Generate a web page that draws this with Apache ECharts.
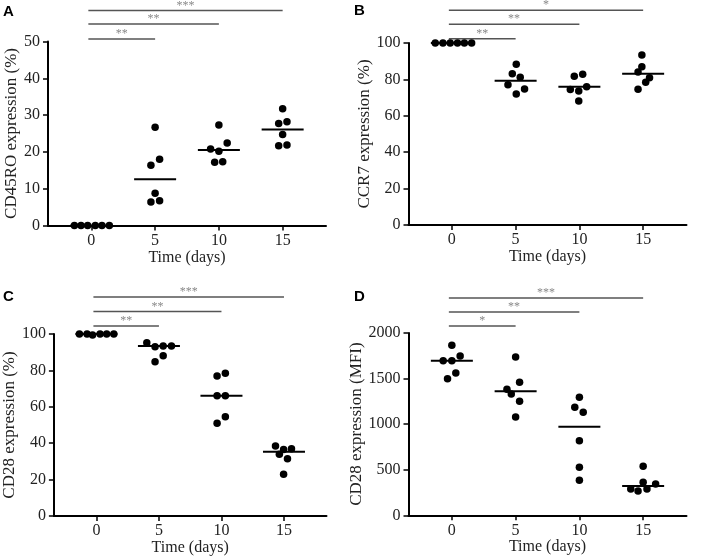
<!DOCTYPE html>
<html><head><meta charset="utf-8">
<script src="https://cdn.jsdelivr.net/npm/echarts@6/dist/echarts.min.js"></script>
<style>html,body{margin:0;padding:0;background:#fff}#c{width:708px;height:557px}</style>
</head><body><div id="c"></div>
<script>
// ---------- DATA ----------
const dayTicks = [0, 5, 10, 15];

// Panel A: CD45RO expression (%)
const aX = [-1.33,-0.81,-0.29,0.31,0.83,1.41, 5.0,4.67,5.35,5.0,4.67,5.35, 10.0,9.35,10.65,10.0,9.67,10.3, 15.0,14.69,15.34,15.0,14.69,15.34];
const aY = [0,0,0,0,0,0, 26.7,16.4,18.0,8.75,6.4,6.75, 27.3,20.8,22.4,20.2,17.2,17.3, 31.7,27.7,28.2,24.7,21.7,21.9];
const aMedian = [0, 12.6, 20.5, 26.1];
const aSig = [[0,5,'**'],[0,10,'**'],[0,15,'***']];

// Panel B: CCR7 expression (%)
const bX = [-1.3,-0.7,-0.13,0.44,0.98,1.55, 5.05,4.74,5.36,4.4,5.7,5.05, 9.6,10.26,9.29,9.95,10.57,9.95, 14.9,14.9,14.6,15.5,15.2,14.6];
const bY = [100,100,100,100,100,100, 88.3,83.1,81.2,77.0,74.7,72.0, 81.7,82.8,74.4,73.6,76.0,68.1, 93.4,87.0,84.1,80.9,78.4,74.6];
const bMedian = [100, 79.3, 76.0, 83.1];
const bSig = [[0,5,'**'],[0,10,'**'],[0,15,'*']];

// Panel C: CD28 expression (%)
const cX = [-1.36,-0.75,-0.31,0.29,0.82,1.39, 4.03,4.69,5.34,6.0,5.34,4.69, 9.65,10.31,9.65,10.31,10.31,9.65, 14.32,14.97,15.6,14.63,15.28,14.97];
const cY = [100,100,99.4,100,100,100, 95.2,93.0,93.4,93.4,88.1,84.8, 76.9,78.4,66.1,66.1,54.6,50.9, 38.5,36.6,37.0,33.9,31.5,22.9];
const cMedian = [100, 93.4, 66.1, 35.3];
const cSig = [[0,5,'**'],[0,10,'**'],[0,15,'***']];

// Panel D: CD28 expression (MFI)
const dX = [0,-0.68,0,0.65,0.31,-0.34, 5.0,5.31,4.32,4.66,5.31,5.0, 10.0,9.64,10.3,10.0,10.0,10.0, 15.0,15.0,15.98,14.03,14.6,15.3];
const dY = [1865,1696,1696,1748,1561,1499, 1737,1459,1382,1331,1251,1078, 1294,1185,1130,818,527,384, 538,362,343,289,267,289];
const dMedian = [1696, 1360, 972, 321];
const dSig = [[0,5,'*'],[0,10,'**'],[0,15,'***']];

const yNames = ['CD45RO expression (%)', 'CCR7 expression (%)', 'CD28 expression (%)', 'CD28 expression (MFI)'];
const xName = 'Time (days)';
const letters = ['A','B','C','D'];

// ---------- LAYOUT / STYLE ----------
const panels = [
  {x:aX, y:aY, med:aMedian, sig:aSig, ymax:50, yint:10, grid:{left:48, top:41.5, width:278, height:184}, nameGap:28, sigOff:[2.5,17.5,31], letter:[3,12]},
  {x:bX, y:bY, med:bMedian, sig:bSig, ymax:100, yint:20, grid:{left:408.5, top:43, width:278, height:182}, nameGap:33, sigOff:[4.3,18.7,32.7], letter:[354,11]},
  {x:cX, y:cY, med:cMedian, sig:cSig, ymax:100, yint:20, grid:{left:48.5, top:334, width:278, height:182}, nameGap:30, sigOff:[8,22.5,37], letter:[3,297]},
  {x:dX, y:dY, med:dMedian, sig:dSig, ymax:2000, yint:500, grid:{left:408.5, top:333, width:278, height:182.3}, nameGap:40, sigOff:[7,21,35], letter:[354,297]}
];

const serif = '"Liberation Serif", "DejaVu Serif", serif';
const grids = [], xAxes = [], yAxes = [], series = [], graphics = [];

panels.forEach((p, i) => {
  grids.push(Object.assign({containLabel:false}, p.grid));
  xAxes.push({
    type:'value', gridIndex:i, min:-3.4, max:18.4,
    name:xName, nameLocation:'middle', nameGap:20,
    nameTextStyle:{fontFamily:serif, fontSize:16, color:'#222'},
    axisLine:{show:true, onZero:false, lineStyle:{color:'#000', width:2}},
    axisTick:{show:true, length:5, lineStyle:{color:'#000', width:1.5}, customValues:dayTicks},
    axisLabel:{fontFamily:serif, fontSize:16, color:'#222', margin:7, customValues:dayTicks},
    splitLine:{show:false}
  });
  yAxes.push({
    type:'value', gridIndex:i, min:0, max:p.ymax, interval:p.yint,
    name:yNames[i], nameLocation:'middle', nameGap:p.nameGap,
    nameTextStyle:{fontFamily:serif, fontSize:17, color:'#222'},
    axisLine:{show:true, onZero:false, lineStyle:{color:'#000', width:2}},
    axisTick:{show:true, length:5, lineStyle:{color:'#000', width:1.5}},
    axisLabel:{fontFamily:serif, fontSize:16, color:'#222', margin:8, formatter:v => String(v)},
    splitLine:{show:false}
  });
  series.push({
    type:'scatter', xAxisIndex:i, yAxisIndex:i, clip:false,
    symbol:'circle', symbolSize:7.5,
    itemStyle:{color:'#000', opacity:1},
    data:p.x.map((v, k) => [v, p.y[k]]),
    z:3
  });
  series.push({
    type:'custom', xAxisIndex:i, yAxisIndex:i, clip:false,
    data:dayTicks.map((d, k) => [d, p.med[k]]),
    renderItem:(params, api) => {
      const c = api.coord([api.value(0), api.value(1)]);
      return {type:'line', shape:{x1:c[0]-21, y1:c[1], x2:c[0]+21, y2:c[1]}, style:{stroke:'#000', lineWidth:2}};
    },
    z:2
  });
  const labs = p.sig.map(s => s[2]);
  series.push({
    type:'custom', xAxisIndex:i, yAxisIndex:i, clip:false,
    encode:{x:[0,1], y:2},
    data:p.sig.map(s => [s[0], s[1], 0]),
    renderItem:(params, api) => {
      const k = params.dataIndex;
      const x0 = api.coord([api.value(0), 0])[0] - 3;
      const x1 = api.coord([api.value(1), 0])[0];
      const y = params.coordSys.y - p.sigOff[k];
      return {type:'group', children:[
        {type:'line', shape:{x1:x0, y1:y, x2:x1, y2:y}, style:{stroke:'#555', lineWidth:1.5}},
        {type:'text', style:{text:labs[k], x:(x0+x1)/2, y:y+1, align:'center', verticalAlign:'bottom', fill:'#888', font:'12px ' + serif}}
      ]};
    },
    z:2
  });
  graphics.push({type:'text', left:p.letter[0], top:p.letter[1]-8,
    style:{text:letters[i], font:'bold 15px "Liberation Sans", Arial, sans-serif', fill:'#000'}});
});

const chart = echarts.init(document.getElementById('c'), null, {renderer:'canvas'});
chart.setOption({
  animation:false,
  backgroundColor:'#fff',
  grid:grids, xAxis:xAxes, yAxis:yAxes, series:series, graphic:graphics
});
</script>
</body></html>
